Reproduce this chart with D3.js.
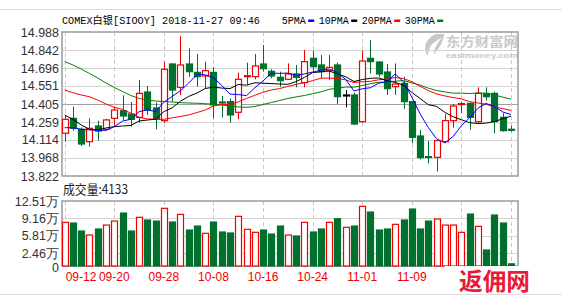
<!DOCTYPE html>
<meta charset="utf-8">
<body style="margin:0;background:#fff">
<style>
text { font-family: "Liberation Sans", Arial, sans-serif; }
.cjk { font-family: "Noto Sans CJK SC", sans-serif; }
.mono { font-family: "Liberation Mono", "Noto Sans CJK SC", monospace; }
</style>
<script src="https://d3js.org/d3.v7.min.js"></script>
<script>
// trading days shown
var dates = ["09-12","09-13","09-14","09-17","09-18","09-19","09-20","09-21","09-24","09-25","09-26","09-27","09-28",
  "10-01","10-02","10-03","10-04","10-05","10-08","10-09","10-10","10-11","10-12","10-15","10-16","10-17","10-18","10-19",
  "10-22","10-23","10-24","10-25","10-26","10-29","10-30","10-31",
  "11-01","11-02","11-05","11-06","11-07","11-08","11-09","11-12","11-13","11-14","11-15","11-16","11-19","11-20","11-21",
  "11-22","11-23","11-26","11-27"];

var opens  = [14.168,14.289,14.200,14.100,14.227,14.200,14.289,14.351,14.324,14.297,14.502,14.373,14.270,14.729,14.540,
  14.729,14.661,14.632,14.661,14.421,14.424,14.338,14.626,14.626,14.729,14.670,14.621,14.605,14.648,14.578,14.775,14.721,
  14.675,14.721,14.478,14.478,14.262,14.775,14.745,14.664,14.545,14.572,14.424,14.146,13.979,13.973,14.100,14.270,14.402,
  14.410,14.262,14.491,14.491,14.297,14.200];
var highs  = [14.316,14.383,14.216,14.289,14.270,14.286,14.383,14.475,14.421,14.599,14.551,14.416,14.748,14.734,14.956,
  14.856,14.810,14.748,14.702,14.470,14.451,14.659,14.740,14.810,14.883,14.686,14.667,14.734,14.721,14.842,14.837,14.802,
  14.802,14.740,14.518,14.497,14.837,14.923,14.751,14.729,14.734,14.626,14.429,14.195,14.108,14.114,14.324,14.405,14.424,
  14.416,14.540,14.540,14.505,14.330,14.227];
var lows   = [14.100,14.189,14.065,14.060,14.108,14.189,14.222,14.276,14.222,14.254,14.316,14.200,14.254,14.424,14.478,
  14.626,14.545,14.532,14.289,14.297,14.254,14.281,14.559,14.605,14.667,14.613,14.545,14.599,14.540,14.540,14.667,14.613,
  14.599,14.405,14.378,14.235,14.254,14.653,14.626,14.478,14.478,14.365,14.087,13.957,13.925,13.857,14.087,14.213,14.330,
  14.195,14.254,14.432,14.168,14.181,14.181];
var closes = [14.281,14.208,14.081,14.208,14.186,14.276,14.356,14.308,14.281,14.491,14.356,14.281,14.686,14.518,14.721,
  14.667,14.626,14.675,14.397,14.413,14.316,14.605,14.634,14.713,14.691,14.632,14.594,14.648,14.621,14.748,14.707,14.667,
  14.702,14.464,14.478,14.243,14.753,14.748,14.648,14.529,14.567,14.424,14.135,13.971,13.973,14.108,14.270,14.389,14.408,
  14.297,14.491,14.464,14.262,14.189,14.192];

// volume, in units of 万 (10k)
var volumes = [8.40,8.27,6.73,5.96,7.12,7.88,8.65,10.19,6.73,9.37,8.85,8.65,11.10,8.46,9.94,6.92,7.69,6.29,8.46,6.54,
  6.35,9.56,7.06,6.48,6.92,6.15,7.69,5.96,5.77,8.40,6.54,7.12,8.40,9.10,7.44,7.69,11.48,10.38,6.92,7.12,8.02,8.85,10.96,
  7.12,8.65,9.04,7.88,7.88,6.48,10.00,7.63,3.08,9.81,8.27,0.4133];

// MA values before the window is full (earlier history not on the chart)
var ma5Head  = [14.213,14.213,14.200,14.195];
var ma10Head = [14.316,14.281,14.235,14.200,14.195,14.211,14.221,14.227,14.231];
var ma20Head = [14.518,14.497,14.478,14.464,14.437,14.405,14.378,14.362,14.330,14.297,14.284,14.281,14.281,14.293,
  14.304,14.316,14.336,14.356,14.389];
var ma30Head = [14.748,14.721,14.688,14.652,14.616,14.575,14.539,14.506,14.474,14.450,14.437,14.429,14.425,14.421,
  14.416,14.413,14.411,14.407,14.403,14.397,14.389,14.381,14.378,14.385,14.401,14.417,14.433,14.450,14.462];

var priceTicks = ["14.988","14.842","14.696","14.551","14.405","14.259","14.114","13.968","13.822"];
var volTicks = [12.51, 9.16, 5.81, 2.46, 0];
var lastVolume = 4133;

var maNames = ["5PMA","10PMA","20PMA","30PMA"];
var maColors = ["#0000ff","#000000","#ff0000","#008000"];

var W = 562, H = 302;
var left = 62, right = 518;
var pTop = 32, pBot = 176, vTop = 201, vBot = 266;
var up = "#f00000", down = "#00702f";

var svg = d3.select("body").append("svg").attr("width", W).attr("height", H);

// frame lines
svg.append("line").attr("x1",0).attr("x2",W).attr("y1",9.5).attr("y2",9.5).attr("stroke","#dcdcdc");
svg.append("line").attr("x1",0).attr("x2",W).attr("y1",294.5).attr("y2",294.5).attr("stroke","#dcdcdc");

var x = d3.scalePoint().domain(d3.range(dates.length)).range([64.7, 511]);
var y = d3.scaleLinear().domain([13.822, 14.988]).range([pBot, pTop]);
var yv = d3.scaleLinear().domain([0, 12.51]).range([vBot, vTop]);
var bw = 6;

var tickIdx = d3.range(0, dates.length, 6);

// watermark (eastmoney)
var wm = svg.append("g").attr("fill","#c9c9c9");
wm.append("path").attr("d","M436,34 C426,38 422,48 428,56 C428,48 432,42 442,38 C438,42 434,48 434,54 C440,48 444,40 444,34 Z");
wm.append("text").attr("class","cjk").attr("x",446).attr("y",45.5).attr("font-size",13).attr("font-weight","bold")
  .attr("textLength",72).attr("lengthAdjust","spacingAndGlyphs").text("东方财富网");
wm.append("text").attr("x",446).attr("y",57.5).attr("font-size",7).attr("font-weight","bold")
  .attr("textLength",72).attr("lengthAdjust","spacingAndGlyphs").text("eastmoney.com");

// price grid
svg.append("g").selectAll("line").data(priceTicks.slice(1, -1)).join("line")
  .attr("x1", left).attr("x2", right)
  .attr("y1", d => Math.round(y(+d)) + 0.5).attr("y2", d => Math.round(y(+d)) + 0.5)
  .attr("stroke", d => d === "14.405" ? "#a0a0a0" : "#d4d4d4");

// volume grid
svg.append("g").selectAll("line").data(volTicks.slice(1, -1)).join("line")
  .attr("x1", left).attr("x2", right)
  .attr("y1", d => Math.round(yv(d)) + 0.5).attr("y2", d => Math.round(yv(d)) + 0.5)
  .attr("stroke", "#d4d4d4");

// vertical dashed lines
[[pTop, pBot], [vTop, vBot]].forEach(function(r) {
  svg.append("g").selectAll("line").data(tickIdx).join("line")
    .attr("x1", i => Math.round(x(i)) + 0.5).attr("x2", i => Math.round(x(i)) + 0.5)
    .attr("y1", r[0]).attr("y2", r[1])
    .attr("stroke", "#c8c8c8").attr("stroke-dasharray", "4,3");
});

// axes
var ya = svg.append("g").attr("transform","translate(" + (left - 3) + ",0)")
  .call(d3.axisLeft(y).tickValues(priceTicks.map(Number)).tickFormat((d, i) => priceTicks[i]).tickSize(0).tickPadding(0));
ya.select(".domain").remove();
ya.selectAll("text").attr("font-size", 12.5).attr("fill", "#333").attr("font-family", "Liberation Sans, Arial");

var va = svg.append("g").attr("transform","translate(" + (left - 3) + ",0)")
  .call(d3.axisLeft(yv).tickValues(volTicks).tickFormat(d => d === 0 ? "0" : d.toFixed(2) + "万").tickSize(0).tickPadding(0));
va.select(".domain").remove();
va.selectAll("text").attr("font-size", 12.5).attr("fill", "#333").attr("font-family", "Liberation Sans, Noto Sans CJK SC");
va.selectAll(".tick").filter(d => d === 0).select("text").attr("dy", "0.45em");

// date labels; the last two sit under the site stamp in the reference, so they are not drawn
var xa = svg.append("g").attr("transform","translate(0," + 281 + ")");
xa.selectAll("text").data(tickIdx.filter(i => x(i) < 440)).join("text")
  .attr("x", i => i === 0 ? x(i) + 1 : x(i))
  .attr("text-anchor", i => i === 0 ? "start" : "middle")
  .attr("font-size", 12).attr("fill", "#f00000").text(i => dates[i]);

// panel borders
svg.append("rect").attr("x", left).attr("y", pTop).attr("width", right - left).attr("height", pBot - pTop)
  .attr("fill", "none").attr("stroke", "#9a9a9a").attr("stroke-width", 1.5);
svg.append("rect").attr("x", left).attr("y", vTop).attr("width", right - left).attr("height", vBot - vTop)
  .attr("fill", "none").attr("stroke", "#9a9a9a").attr("stroke-width", 1.5);

// candles
var idx = d3.range(dates.length);
function ccol(i) { return closes[i] > opens[i] ? up : closes[i] < opens[i] ? down : "#000"; }
var cg = svg.append("g");
cg.selectAll("line").data(idx).join("line")
  .attr("x1", i => Math.round(x(i)) + 0.5).attr("x2", i => Math.round(x(i)) + 0.5)
  .attr("y1", i => y(highs[i])).attr("y2", i => y(lows[i]))
  .attr("stroke", ccol);
cg.selectAll("rect").data(idx).join("rect")
  .attr("x", i => Math.round(x(i)) - bw / 2 + 0.5)
  .attr("y", i => y(Math.max(opens[i], closes[i])))
  .attr("width", bw)
  .attr("height", i => Math.max(1, Math.abs(y(opens[i]) - y(closes[i]))))
  .attr("fill", i => closes[i] > opens[i] ? "#fff" : ccol(i))
  .attr("stroke", ccol).attr("stroke-width", 1.2);

// moving averages
function movingAvg(n, head) {
  return closes.map((c, i) => i < n - 1 ? head[i] : d3.mean(closes.slice(i - n + 1, i + 1)));
}
var maSeries = [movingAvg(5, ma5Head), movingAvg(10, ma10Head), movingAvg(20, ma20Head), movingAvg(30, ma30Head)];
var line = d3.line().x((d, i) => x(i)).y(d => y(d));
maSeries.slice().reverse().forEach(function(s, k) {
  svg.append("path").datum(s).attr("d", line).attr("fill", "none")
    .attr("stroke", maColors[3 - k]).attr("stroke-width", 1);
});

// volume bars
svg.append("g").selectAll("rect").data(idx).join("rect")
  .attr("x", i => Math.round(x(i)) - bw / 2 + 0.5)
  .attr("y", i => yv(volumes[i]))
  .attr("width", bw)
  .attr("height", i => vBot - yv(volumes[i]))
  .attr("fill", i => closes[i] >= opens[i] ? "#fff" : down)
  .attr("stroke", i => closes[i] >= opens[i] ? up : down).attr("stroke-width", 1.2);

// title + legend
svg.append("text").attr("class","mono").attr("x", 62).attr("y", 24).attr("font-size", 10.2)
  .attr("textLength", 198).attr("lengthAdjust", "spacingAndGlyphs").text("COMEX白银[SIOOY] 2018-11-27 09:46");
var lx = 281.7;
maNames.forEach(function(n, k) {
  var w = n.length * 6;
  svg.append("text").attr("class","mono").attr("x", lx).attr("y", 24).attr("font-size", 10)
    .attr("textLength", w).attr("lengthAdjust", "spacingAndGlyphs").text(n);
  svg.append("rect").attr("x", lx + w + 2.5).attr("y", 19.5).attr("width", 6).attr("height", 2.5).attr("fill", maColors[k]);
  lx += w + 13;
});

svg.append("text").attr("class","cjk").attr("x", 63).attr("y", 194).attr("font-size", 13).attr("fill", "#222")
  .attr("textLength", 65).attr("lengthAdjust", "spacingAndGlyphs").text("成交量:" + lastVolume);

// site stamp bottom right
svg.append("rect").attr("x", 445).attr("y", 266).attr("width", 117).attr("height", 28).attr("fill", "#fff");
svg.append("text").attr("class","cjk").attr("x", 459).attr("y", 290).attr("font-size", 23.7).attr("font-weight", "bold")
  .attr("fill", "#ea1a3a").attr("textLength", 71).attr("lengthAdjust", "spacingAndGlyphs").text("返佣网");
</script>
</body>
